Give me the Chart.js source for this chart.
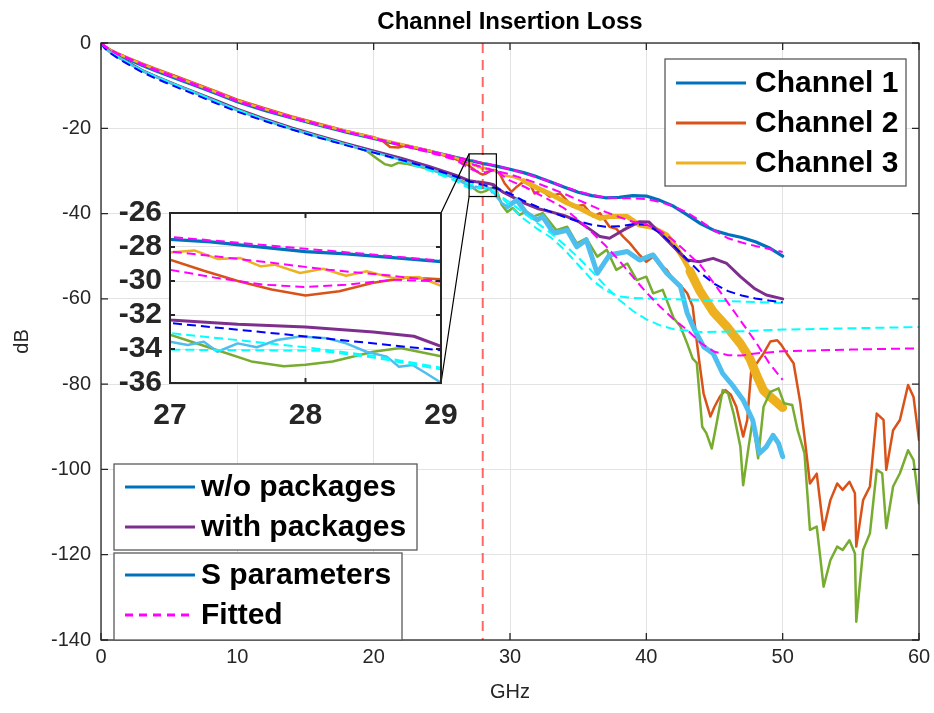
<!DOCTYPE html>
<html>
<head>
<meta charset="utf-8">
<title>Channel Insertion Loss</title>
<script src="https://cdn.jsdelivr.net/npm/chart.js@4.4.0/dist/chart.umd.min.js"></script>
<style>
  html, body { margin: 0; padding: 0; background: #fff; }
  #wrap { position: relative; width: 934px; height: 713px; }
  #main { position: absolute; left: 0; top: 0; }
  #inset { position: absolute; left: 100px; top: 200px; }
</style>
</head>
<body>
<div id="wrap">
  <canvas id="main" width="934" height="713"></canvas>
  <canvas id="inset" width="360" height="250"></canvas>
</div>
<script>
// ---- measured insertion loss, [GHz, dB] ----
const ch1 = [[0,0],[0.3,-1.0],[0.7,-1.8],[1.2,-2.7],[2,-3.8],[3,-5.2],[4,-6.5],[5.5,-8.3],[7,-10.1],[8.5,-11.9],[10,-13.8],[12,-15.8],[14,-17.6],[16,-19.3],[18,-20.9],[20,-22.4],[22,-23.9],[24,-25.3],[26,-26.8],[27,-27.55],[27.3,-27.7],[27.6,-27.95],[28,-28.27],[28.3,-28.4],[28.6,-28.6],[29,-28.86],[30,-29.6],[31,-30.4],[32,-31.4],[33,-32.6],[34,-33.8],[35,-35.0],[36,-35.8],[37,-36.3],[38,-36.2],[39,-35.8],[40,-35.9],[41,-36.9],[42,-38.3],[43,-40.3],[44,-42.4],[45,-44.0],[46,-44.9],[47,-45.6],[48,-46.6],[49,-48.0],[50,-50.0]];
const ch2 = [[0,0],[0.3,-0.8],[0.7,-1.6],[1.2,-2.4],[2,-3.5],[3,-4.8],[4,-6.0],[5.5,-7.8],[7,-9.6],[8.5,-11.4],[10,-13.3],[12,-15.3],[14,-17.2],[16,-18.9],[18,-20.6],[20,-22.1],[20.6,-22.8],[21.2,-24.4],[21.8,-24.5],[22.4,-24.0],[24,-25.2],[26,-27.2],[26.5,-27.9],[27,-28.75],[27.25,-29.4],[27.5,-30.0],[27.75,-30.5],[28,-30.85],[28.25,-30.6],[28.5,-30.1],[28.75,-29.8],[29,-29.9],[29.3,-31.0],[29.6,-32.9],[30.1,-34.9],[30.5,-33.7],[31,-32.5],[31.5,-33.3],[31.8,-35.3],[32.3,-34.5],[32.9,-36.0],[33.7,-35.3],[34.6,-38.4],[35.4,-38.0],[36.1,-40.7],[36.6,-39.9],[37.3,-43.1],[37.8,-43.6],[38.3,-45.4],[38.8,-47.0],[39.5,-49.7],[40,-51.3],[40.5,-50.1],[41,-52.1],[41.5,-53.2],[42,-55.6],[42.5,-56.8],[43,-58.7],[43.4,-61.8],[43.7,-70.0],[43.9,-75.1],[44.2,-82.2],[44.7,-87.6],[45,-85.3],[45.4,-82.9],[45.8,-81.4],[46.2,-82.5],[46.6,-85.3],[47.1,-92.3],[47.4,-88.4],[47.7,-76.7],[48.1,-75.1],[48.6,-72.8],[49.1,-70.0],[49.6,-69.7],[49.9,-70.8],[50.3,-72.8],[50.8,-75.1],[51.3,-84.5],[51.6,-92.3],[52,-103.3],[52.5,-101.0],[53,-114.2],[53.5,-107.2],[54,-103.3],[54.4,-104.8],[54.9,-102.9],[55.3,-105.6],[55.4,-118.1],[55.9,-107.2],[56.4,-104.0],[56.9,-86.9],[57.4,-88.4],[57.6,-100.1],[58.1,-90.8],[58.6,-88.4],[59.2,-80.2],[59.6,-83.0],[60,-93.1]];
const ch3 = [[0,0],[0.3,-0.9],[0.7,-1.7],[1.2,-2.5],[2,-3.6],[3,-4.9],[4,-6.2],[5.5,-8.0],[7,-9.8],[8.5,-11.6],[10,-13.5],[12,-15.5],[14,-17.4],[16,-19.1],[18,-20.7],[20,-22.2],[22,-23.7],[24,-25.2],[26,-26.9],[27,-28.32],[27.18,-28.2],[27.35,-28.7],[27.52,-28.65],[27.67,-29.14],[27.77,-29.04],[27.96,-29.53],[28.13,-29.28],[28.3,-29.69],[28.45,-29.43],[28.65,-29.83],[28.84,-29.77],[29,-30.28],[29.5,-31.0],[30.2,-31.4],[31,-32.3],[32,-34.0],[33,-35.5],[34,-37.2],[35,-38.6],[36,-40.2],[36.6,-41.1],[37.3,-40.7],[38.6,-40.7],[39.5,-42.7],[40.5,-43.3],[41.5,-45.0],[42,-47.0],[42.7,-50.5],[43.2,-53.5],[43.9,-58.0],[44.9,-63.0],[45.9,-66.5],[46.9,-70.5],[47.6,-74.0],[48.1,-78.0],[48.6,-81.5],[49.1,-83.0],[50,-85.5]];
const pkg1 = [[0,0],[0.3,-1.1],[0.7,-2.1],[1.2,-3.1],[2,-4.6],[3,-6.4],[4,-7.8],[5.5,-9.8],[7,-11.7],[8.5,-13.6],[10,-15.5],[12,-17.8],[14,-19.9],[16,-21.8],[18,-23.6],[20,-25.3],[22,-27.0],[24,-28.9],[26,-31.0],[27,-32.3],[27.5,-32.55],[28,-32.7],[28.5,-33.0],[28.8,-33.25],[29,-33.85],[29.5,-35.0],[30,-35.8],[31,-37.5],[32,-38.8],[33,-39.6],[34,-40.5],[35,-41.8],[36,-44.0],[36.6,-45.4],[37.3,-45.8],[38.3,-43.9],[39.5,-41.9],[40.2,-42.0],[41,-44.6],[42,-47.8],[43,-50.9],[43.9,-51.3],[44.9,-50.5],[45.9,-51.7],[46.9,-54.8],[47.9,-57.5],[48.8,-59.1],[50,-60.0]];
const pkg2 = [[0,0],[0.3,-1.2],[0.7,-2.2],[1.2,-3.2],[2,-4.7],[3,-6.5],[4,-7.9],[5.5,-9.9],[7,-11.8],[8.5,-13.8],[10,-15.7],[12,-18.0],[14,-20.1],[16,-22.0],[18,-23.8],[19.5,-25.3],[20.2,-27.0],[20.8,-28.4],[21.3,-28.8],[21.8,-28.1],[22.5,-28.4],[24,-29.5],[26,-31.7],[27,-33.16],[27.3,-33.94],[27.6,-34.73],[27.84,-35.02],[28,-34.92],[28.2,-34.73],[28.5,-34.16],[28.7,-33.94],[29,-34.43],[29.4,-38.0],[29.8,-39.6],[30.2,-38.7],[30.7,-40.3],[31.2,-39.5],[31.7,-40.7],[32.4,-39.9],[33.4,-43.9],[34.2,-43.1],[34.9,-47.0],[35.6,-45.8],[36.4,-50.1],[37.1,-48.5],[37.8,-53.2],[38.6,-51.7],[39.3,-55.6],[40,-54.8],[40.5,-58.7],[41.2,-57.9],[42,-64.5],[42.5,-66.5],[43,-70.5],[43.4,-74.0],[43.7,-75.0],[44.1,-90.0],[44.4,-91.5],[44.8,-95.1],[45.2,-88.4],[45.6,-81.4],[46,-82.2],[46.4,-86.9],[46.9,-94.7],[47.1,-103.7],[47.5,-94.7],[47.8,-88.4],[48.2,-97.4],[48.6,-85.3],[49.1,-81.8],[49.7,-81.0],[50.1,-84.5],[50.7,-84.9],[51.1,-90.8],[51.6,-96.2],[52,-114.2],[52.5,-113.4],[53,-127.5],[53.5,-121.3],[54,-118.1],[54.4,-118.9],[54.9,-116.6],[55.3,-119.7],[55.4,-135.7],[55.9,-118.9],[56.4,-115.0],[56.9,-100.1],[57.3,-100.9],[57.6,-113.8],[58.1,-104.0],[58.6,-100.9],[59.2,-95.5],[59.6,-97.8],[60,-108.0]];
const pkg3 = [[0,0],[0.3,-1.2],[0.7,-2.2],[1.2,-3.2],[2,-4.7],[3,-6.5],[4,-7.9],[5.5,-9.9],[7,-11.8],[8.5,-13.8],[10,-15.8],[12,-18.1],[14,-20.2],[16,-22.1],[18,-23.9],[20,-25.6],[22,-27.4],[24,-29.4],[26,-31.7],[27,-33.57],[27.13,-33.77],[27.25,-33.57],[27.35,-34.16],[27.5,-33.67],[27.64,-33.9],[27.79,-33.47],[27.96,-33.27],[28.16,-33.37],[28.3,-33.67],[28.45,-34.16],[28.6,-34.45],[28.69,-35.04],[28.79,-34.94],[28.89,-35.43],[29,-35.98],[29.4,-37.5],[29.8,-38.4],[30.5,-36.8],[31.2,-39.9],[32,-41.5],[32.4,-40.7],[33.2,-44.6],[34.2,-43.9],[34.9,-47.8],[35.6,-46.2],[36.4,-54.0],[37.3,-49.7],[38.6,-48.9],[39.5,-50.9],[40.5,-49.7],[41.5,-54.0],[42.5,-57.1],[43,-63.4],[43.5,-67.0],[44.2,-71.2],[44.9,-72.8],[45.6,-77.5],[46.4,-80.6],[47.1,-83.7],[47.8,-88.4],[48.3,-96.2],[48.8,-94.7],[49.3,-92.0],[49.7,-93.9],[50,-97.0]];

// ---- fitted models, [GHz, dB] ----
const fitCh1 = [[0,0],[0.3,-0.9],[0.7,-1.7],[1.2,-2.6],[2,-3.7],[3,-5.1],[4,-6.4],[5.5,-8.2],[7,-10.0],[8.5,-11.8],[10,-13.7],[12,-15.7],[14,-17.5],[16,-19.2],[18,-20.8],[20,-22.3],[22,-23.8],[24,-25.2],[26,-26.7],[27,-27.4],[28,-28.1],[29,-28.8],[30,-29.6],[31,-30.5],[32,-31.5],[33,-32.6],[34,-33.7],[35,-34.8],[36,-35.6],[37,-36.2],[38,-36.4],[39,-36.4],[40,-36.6],[41,-37.3],[42,-38.3],[43,-39.8],[44,-41.8],[45,-44.0],[46,-45.8],[47,-46.8],[48,-47.6],[49,-48.3],[50,-49.0]];
const fitCh2 = [[0,0],[0.3,-0.8],[0.7,-1.6],[1.2,-2.5],[2,-3.6],[3,-4.9],[4,-6.2],[5.5,-8.0],[7,-9.8],[8.5,-11.6],[10,-13.5],[12,-15.5],[14,-17.4],[16,-19.1],[18,-20.8],[20,-22.4],[22,-24.0],[24,-25.6],[26,-27.4],[27,-29.34],[27.35,-29.83],[27.7,-30.22],[28,-30.35],[28.3,-30.22],[28.65,-29.93],[29,-30.03],[29.5,-31.2],[30,-32.3],[31,-33.6],[32,-35.3],[33,-37.0],[34,-38.8],[35,-41.5],[36,-44.4],[37,-47.5],[38,-51.0],[39,-54.8],[40,-58.5],[41,-61.8],[42,-64.8],[43,-67.3],[44,-70.4],[45,-72.4],[46,-73.2],[47,-73.3],[48,-72.8],[50,-72.3],[55,-71.9],[60,-71.6]];
const fitCh3 = [[0,0],[0.3,-0.9],[0.7,-1.7],[1.2,-2.5],[2,-3.6],[3,-5.0],[4,-6.3],[5.5,-8.1],[7,-9.9],[8.5,-11.7],[10,-13.6],[12,-15.6],[14,-17.5],[16,-19.2],[18,-20.8],[20,-22.4],[22,-23.9],[24,-25.4],[26,-27.0],[27,-28.26],[27.67,-28.85],[28.17,-29.34],[28.65,-29.7],[29,-30.03],[30,-30.8],[31,-31.8],[32,-32.9],[33,-34.1],[34,-35.4],[35,-36.8],[36,-38.2],[37,-39.6],[38,-40.8],[39,-41.9],[40,-42.6],[41,-44.0],[42,-46.3],[43,-49.2],[44,-52.2],[45,-56.5],[46,-61.0],[47,-65.5],[48,-70.0],[49,-75.0],[50,-79.0]];
const fitPkg1 = [[0,0],[0.3,-1.3],[0.7,-2.4],[1.2,-3.5],[2,-5.0],[3,-6.8],[4,-8.3],[5.5,-10.3],[7,-12.2],[8.5,-14.2],[10,-16.1],[12,-18.3],[14,-20.3],[16,-22.2],[18,-24.0],[20,-25.7],[22,-27.4],[24,-29.2],[26,-31.3],[27,-32.47],[28,-33.26],[29,-34.08],[30,-35.3],[31,-37.0],[32,-38.4],[33,-39.6],[34,-40.8],[35,-41.8],[36,-42.6],[37,-43.1],[38,-43.0],[39,-42.5],[40,-42.6],[41,-44.5],[42,-47.5],[43,-50.8],[44,-54.0],[45,-56.5],[46,-58.2],[47,-59.2],[48,-59.9],[49,-60.4],[50,-60.8]];
const fitPkg2 = [[0,0],[0.3,-1.2],[0.7,-2.2],[1.2,-3.3],[2,-4.8],[3,-6.6],[4,-8.0],[5.5,-10.0],[7,-11.9],[8.5,-13.9],[10,-15.8],[12,-18.1],[14,-20.2],[16,-22.1],[18,-23.9],[20,-25.7],[22,-27.6],[24,-29.8],[26,-32.3],[27,-34.04],[28.1,-34.1],[28.5,-34.5],[29,-35.2],[30,-37.4],[31,-39.8],[32,-42.2],[33,-44.6],[34,-47.3],[35,-50.3],[36,-53.5],[37,-57.0],[38,-60.2],[39,-62.8],[40,-64.8],[41,-66.2],[42,-67.1],[44,-67.8],[47,-67.6],[50,-67.2],[55,-66.9],[60,-66.6]];
const fitPkg3 = [[0,0],[0.3,-1.2],[0.7,-2.2],[1.2,-3.2],[2,-4.7],[3,-6.5],[4,-7.9],[5.5,-9.9],[7,-11.8],[8.5,-13.8],[10,-15.7],[12,-18.0],[14,-20.1],[16,-22.0],[18,-23.8],[20,-25.6],[22,-27.4],[24,-29.4],[26,-31.6],[27,-33.06],[28,-33.9],[28.5,-34.4],[29,-35.1],[29.5,-36.6],[30,-38.3],[31,-41.2],[32,-43.6],[33,-45.6],[34,-48.5],[35,-52.0],[36,-55.5],[37,-58.0],[38,-59.4],[39,-59.8],[40,-59.9],[44,-60.3],[50,-61.0]];

// marker at 28 GHz and the zoomed window
const markerGHz = 28;
const zoomGHz = [27, 29];
const zoomDb = [-36, -26];

const channelNames = ['Channel 1', 'Channel 2', 'Channel 3'];
const packageNames = ['w/o packages', 'with packages'];
const kindNames = ['S parameters', 'Fitted'];

// MATLAB default line colours
const C = {
  blue: '#0072BD', orange: '#D95319', yellow: '#EDB120',
  purple: '#7E2F8E', green: '#77AC30', sky: '#4DBEEE',
  magenta: '#FF00FF', fitBlue: '#0000FF', cyan: '#00FFFF'
};
const FONT = "'Liberation Sans', Arial, Helvetica, sans-serif";
const AXIS = '#262626';

function solid(label, pts, color, width, wide) {
  const ds = {
    label, data: pts.slice(), borderColor: color, borderWidth: width,
    pointRadius: 0, tension: 0, fill: false,
    borderJoinStyle: 'round', borderCapStyle: 'round'
  };
  // noisy traces look like a thick band above a given frequency
  if (wide) {
    ds.segment = {
      borderWidth: c => {
        let w = width;
        wide.forEach(([f, bw]) => { if (c.p0.parsed.x >= f) w = bw; });
        return w;
      }
    };
  }
  return ds;
}
function dashed(label, pts, color) {
  return {
    label, data: pts.slice(), borderColor: color, borderWidth: 2,
    borderDash: [9, 5], pointRadius: 0, tension: 0, fill: false
  };
}
function buildSets() {
  // first entry is drawn on top
  return [
    dashed('fit ch1', fitCh1, C.magenta),
    dashed('fit ch2', fitCh2, C.magenta),
    dashed('fit ch3', fitCh3, C.magenta),
    dashed('fit pkg ch1', fitPkg1, C.fitBlue),
    dashed('fit pkg ch2', fitPkg2, C.cyan),
    dashed('fit pkg ch3', fitPkg3, C.cyan),
    solid('pkg ch3', pkg3, C.sky, 2.5, [[29.5, 5]]),
    solid('pkg ch2', pkg2, C.green, 2.5),
    solid('pkg ch1', pkg1, C.purple, 3),
    solid('Channel 3', ch3, C.yellow, 2.5, [[30.5, 5], [43, 9]]),
    solid('Channel 2', ch2, C.orange, 2.5),
    solid('Channel 1', ch1, C.blue, 3.2)
  ];
}

// axis box with inward tick marks on all four sides
function drawFrame(ctx, a, sx, sy, len, lw) {
  ctx.save();
  ctx.strokeStyle = AXIS;
  ctx.lineWidth = lw;
  ctx.beginPath();
  sx.ticks.forEach(t => {
    const p = sx.getPixelForValue(t.value);
    ctx.moveTo(p, a.bottom); ctx.lineTo(p, a.bottom - len);
    ctx.moveTo(p, a.top); ctx.lineTo(p, a.top + len);
  });
  sy.ticks.forEach(t => {
    const p = sy.getPixelForValue(t.value);
    ctx.moveTo(a.left, p); ctx.lineTo(a.left + len, p);
    ctx.moveTo(a.right, p); ctx.lineTo(a.right - len, p);
  });
  ctx.stroke();
  ctx.strokeRect(a.left, a.top, a.right - a.left, a.bottom - a.top);
  ctx.restore();
}

function drawLegend(ctx, box, rows) {
  ctx.save();
  ctx.fillStyle = '#fff';
  ctx.fillRect(box.x, box.y, box.w, box.h);
  ctx.strokeStyle = '#5a5a5a';
  ctx.lineWidth = 1.3;
  ctx.strokeRect(box.x, box.y, box.w, box.h);
  ctx.font = 'bold ' + box.size + 'px ' + FONT;
  ctx.textBaseline = 'middle';
  ctx.textAlign = 'left';
  rows.forEach((r, i) => {
    const cy = box.y + box.first + i * box.gap;
    ctx.strokeStyle = r.color;
    ctx.lineWidth = 3;
    ctx.setLineDash(r.dash || []);
    ctx.beginPath();
    ctx.moveTo(box.x + box.lineFrom, cy);
    ctx.lineTo(box.x + box.lineFrom + box.lineLen, cy);
    ctx.stroke();
    ctx.setLineDash([]);
    ctx.fillStyle = '#000';
    ctx.fillText(r.text, box.x + box.textAt, cy + 1);
  });
  ctx.restore();
}

// ---- zoomed inset ----
const INSET_LEFT = 100, INSET_TOP = 200;
const insetChart = new Chart(document.getElementById('inset'), {
  type: 'line',
  data: { datasets: buildSets() },
  options: {
    responsive: false,
    animation: false,
    events: [],
    layout: { padding: { left: 0, top: 13, right: 19, bottom: 0 } },
    plugins: { legend: { display: false }, tooltip: { enabled: false } },
    scales: {
      x: {
        type: 'linear', min: zoomGHz[0], max: zoomGHz[1],
        ticks: { stepSize: 1, autoSkip: false, maxRotation: 0, color: AXIS, padding: 15, font: { family: FONT, size: 30, weight: 'bold' } },
        grid: { color: '#e3e3e3', drawTicks: false },
        border: { display: false },
        afterFit: s => { s.height = 67; s.paddingLeft = 0; s.paddingRight = 0; }
      },
      y: {
        min: zoomDb[0], max: zoomDb[1],
        ticks: { stepSize: 2, autoSkip: false, color: AXIS, padding: 8, font: { family: FONT, size: 30, weight: 'bold' } },
        grid: { color: '#e3e3e3', drawTicks: false },
        border: { display: false },
        afterFit: s => { s.width = 70; s.paddingTop = 0; s.paddingBottom = 0; }
      }
    }
  },
  plugins: [{
    id: 'insetBox',
    beforeDraw(chart) {
      const a = chart.chartArea;
      chart.ctx.save();
      chart.ctx.fillStyle = '#fff';
      chart.ctx.fillRect(a.left, a.top, a.right - a.left, a.bottom - a.top);
      chart.ctx.restore();
    },
    afterDatasetsDraw(chart) {
      drawFrame(chart.ctx, chart.chartArea, chart.scales.x, chart.scales.y, 5, 2);
    }
  }]
});

// ---- main chart ----
const mainSets = buildSets();
mainSets.unshift({
  label: 'marker', data: [[markerGHz, 0], [markerGHz, -140]],
  borderColor: 'rgba(255,40,40,0.7)', borderWidth: 2, borderDash: [10, 7],
  pointRadius: 0, fill: false
});

new Chart(document.getElementById('main'), {
  type: 'line',
  data: { datasets: mainSets },
  options: {
    responsive: false,
    animation: false,
    events: [],
    layout: { padding: { left: 0, top: 0, right: 15, bottom: 0 } },
    plugins: {
      legend: { display: false },
      tooltip: { enabled: false },
      title: {
        display: true, text: 'Channel Insertion Loss', fullSize: false,
        color: '#000', font: { family: FONT, size: 24, weight: 'bold' },
        padding: { top: 8, bottom: 6.2 }
      }
    },
    scales: {
      x: {
        type: 'linear', min: 0, max: 60,
        title: { display: true, text: 'GHz', color: AXIS, font: { family: FONT, size: 20 }, padding: { top: 0, bottom: 9 } },
        ticks: { stepSize: 10, autoSkip: false, maxRotation: 0, color: AXIS, padding: 5, font: { family: FONT, size: 20 } },
        grid: { color: '#e3e3e3', drawTicks: false },
        border: { display: false },
        afterFit: s => { s.height = 73; s.paddingLeft = 0; s.paddingRight = 0; }
      },
      y: {
        min: -140, max: 0,
        title: { display: true, text: 'dB', color: AXIS, font: { family: FONT, size: 20 }, padding: { top: 10, bottom: 0 } },
        ticks: { stepSize: 20, autoSkip: false, color: AXIS, padding: 10, font: { family: FONT, size: 20 } },
        grid: { color: '#e3e3e3', drawTicks: false },
        border: { display: false },
        afterFit: s => { s.width = 101; s.paddingTop = 0; s.paddingBottom = 0; }
      }
    }
  },
  plugins: [{
    id: 'mainDecor',
    afterDatasetsDraw(chart) {
      const { ctx, chartArea: a, scales: { x, y } } = chart;
      drawFrame(ctx, a, x, y, 7, 1.3);

      // window that the inset magnifies, tied to the inset's box
      const x0 = x.getPixelForValue(zoomGHz[0]), x1 = x.getPixelForValue(zoomGHz[1]);
      const y0 = y.getPixelForValue(zoomDb[1]), y1 = y.getPixelForValue(zoomDb[0]);
      const ia = insetChart.chartArea;
      ctx.save();
      ctx.strokeStyle = '#000';
      ctx.lineWidth = 1.2;
      ctx.strokeRect(x0, y0, x1 - x0, y1 - y0);
      ctx.beginPath();
      ctx.moveTo(INSET_LEFT + ia.right, INSET_TOP + ia.top); ctx.lineTo(x0, y0);
      ctx.moveTo(INSET_LEFT + ia.right, INSET_TOP + ia.bottom); ctx.lineTo(x0, y1);
      ctx.stroke();
      ctx.restore();

      drawLegend(ctx, { x: 665, y: 59, w: 241, h: 127, size: 30, first: 24, gap: 40, lineFrom: 11, lineLen: 70, textAt: 90 },
        channelNames.map((n, i) => ({ text: n, color: [C.blue, C.orange, C.yellow][i] })));
      drawLegend(ctx, { x: 114, y: 464, w: 303, h: 86, size: 30, first: 23, gap: 40, lineFrom: 11, lineLen: 70, textAt: 87 },
        [{ text: packageNames[0], color: C.blue }, { text: packageNames[1], color: C.purple }]);
      drawLegend(ctx, { x: 114, y: 553, w: 288, h: 87, size: 30, first: 22, gap: 40, lineFrom: 11, lineLen: 70, textAt: 87 },
        [{ text: kindNames[0], color: C.blue }, { text: kindNames[1], color: C.magenta, dash: [8, 6] }]);
    }
  }]
});
</script>
</body>
</html>
